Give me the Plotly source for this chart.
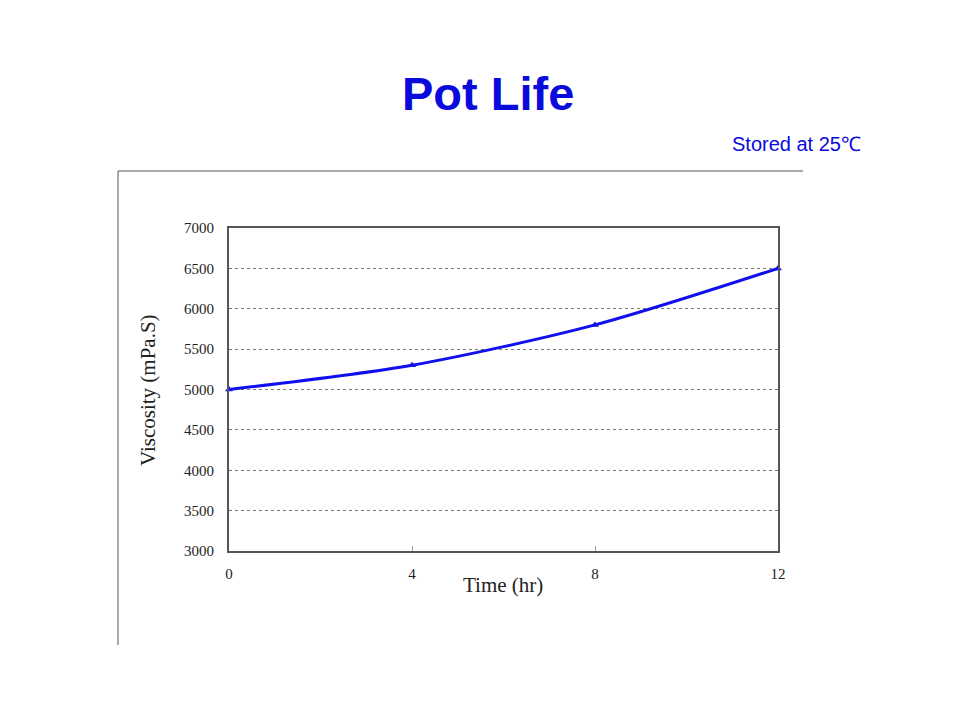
import plotly.graph_objects as go

time_hr = [0, 4, 8, 12]
viscosity = [5000, 5300, 5800, 6500]
x_ticks = [0, 4, 8, 12]
y_ticks = [3000, 3500, 4000, 4500, 5000, 5500, 6000, 6500, 7000]

W, H = 960, 720
OFF = 8  # page body margin
L, R, T, B = 229, 778, 228, 551

def px(x):
    return (x - L) / (R - L)

def py(y):
    return (B - y) / (B - T)

fig = go.Figure()
fig.add_trace(go.Scatter(
    x=time_hr, y=viscosity, mode="lines+markers",
    line=dict(color="#1010ee", width=3, shape="spline", smoothing=0.8),
    marker=dict(symbol="triangle-up", size=7, color="#1010ee"),
    showlegend=False, cliponaxis=False,
))

serif = "Liberation Serif, Times New Roman, serif"
fig.update_layout(
    width=W, height=H,
    margin=dict(l=L - OFF, r=W - (R - OFF), t=T - OFF, b=H - (B - OFF)),
    paper_bgcolor="white", plot_bgcolor="white",
    xaxis=dict(range=[0, 12], tickvals=x_ticks, showgrid=False, zeroline=False,
               showline=True, linecolor="#555", linewidth=2, mirror=True,
               ticks="inside", ticklen=5, tickcolor="#999",
               ticklabelstandoff=8,
               tickfont=dict(family=serif, size=15, color="#222")),
    yaxis=dict(range=[3000, 7000], tickvals=y_ticks, showgrid=True,
               gridcolor="#777", griddash="dot", gridwidth=1, zeroline=False,
               showline=True, linecolor="#555", linewidth=2, mirror=True,
               ticks="", ticklabelstandoff=10,
               tickfont=dict(family=serif, size=15, color="#222")),
    annotations=[
        dict(text="<b>Pot Life</b>", x=px(488), y=py(93), xref="paper", yref="paper",
             xanchor="center", yanchor="middle",
             showarrow=False, font=dict(family="Liberation Sans, Arial", size=47, color="#0a0adc")),
        dict(text="Stored at 25℃", x=px(863), y=py(144), xref="paper", yref="paper",
             xanchor="right", yanchor="middle",
             showarrow=False, font=dict(family="Liberation Sans, Arial", size=20, color="#0a0adc")),
        dict(text="Time (hr)", x=px(503), y=py(585), xref="paper", yref="paper",
             xanchor="center", yanchor="middle",
             showarrow=False, font=dict(family=serif, size=21, color="#222")),
        dict(text="Viscosity (mPa.S)", x=px(148), y=py(390), xref="paper", yref="paper",
             xanchor="center", yanchor="middle",
             showarrow=False, textangle=-90, font=dict(family=serif, size=21, color="#222")),
    ],
    shapes=[
        dict(type="line", xref="paper", yref="paper", x0=px(118), x1=px(118), y0=py(171), y1=py(645),
             line=dict(color="#555", width=1)),
        dict(type="line", xref="paper", yref="paper", x0=px(118), x1=px(803), y0=py(171), y1=py(171),
             line=dict(color="#555", width=1)),
    ],
)

fig.write_html("out.html")
